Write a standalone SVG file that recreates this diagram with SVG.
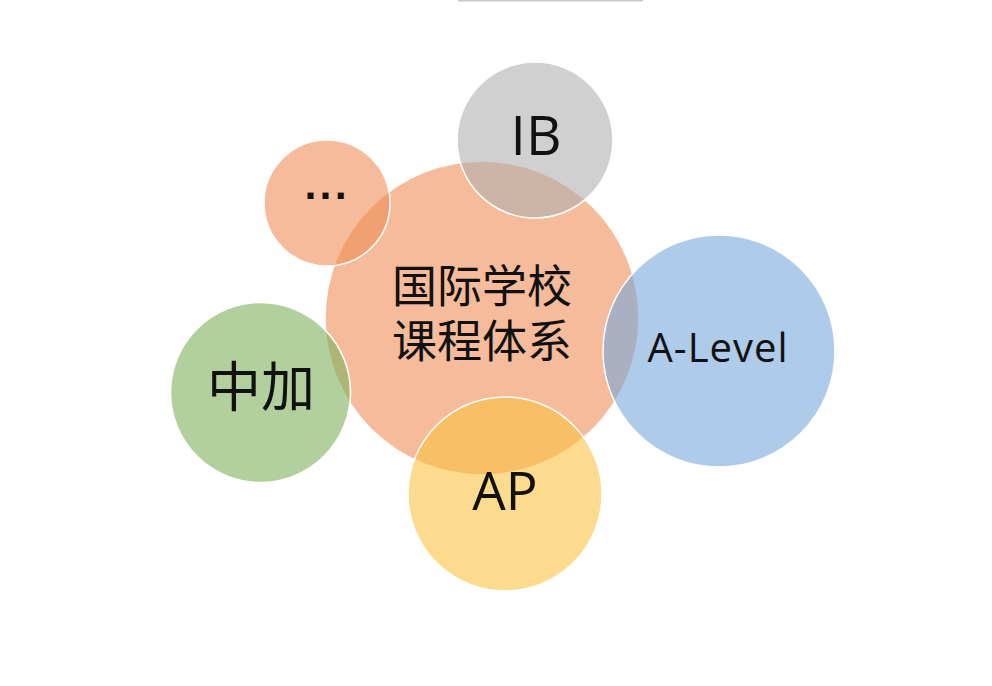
<svg xmlns="http://www.w3.org/2000/svg" width="992" height="686" viewBox="0 0 992 686">
<style>
.c{fill-opacity:0.6;stroke:#ffffff;stroke-width:1.5}
.t{font-family:"Noto Sans CJK SC","Noto Sans",sans-serif;fill:#111111;text-anchor:middle}
.l{font-family:"Open Sans","Noto Sans",sans-serif;fill:#111111;text-anchor:middle}
</style>
<rect width="992" height="686" fill="#ffffff"/>
<line x1="458" y1="0.7" x2="643" y2="0.7" stroke="#c8c8c8" stroke-width="1.5"/>
<g id="center">
<circle class="c" cx="482" cy="318" r="157" fill="#EE8E57"/>
<text class="t" x="482" y="303" font-size="45">国际学校</text>
<text class="t" x="482" y="358" font-size="45">课程体系</text>
</g>
<g id="more">
<circle class="c" cx="327" cy="203" r="63" fill="#EE8E57"/>
<text x="304" y="199" font-family="DejaVu Sans,sans-serif" font-weight="bold" font-size="34" letter-spacing="2.2" fill="#111111">...</text>
</g>
<g id="ib">
<circle class="c" cx="535" cy="140" r="78" fill="#B1B1B1"/>
<text class="l" x="536" y="155" font-size="55">IB</text>
</g>
<g id="alevel">
<circle class="c" cx="719" cy="351" r="116" fill="#78A8DC"/>
<text class="l" x="718" y="362" font-size="40" letter-spacing="1">A-Level</text>
</g>
<g id="ap">
<circle class="c" cx="505" cy="494" r="97" fill="#FAC143"/>
<text class="l" x="505" y="510" font-size="53">AP</text>
</g>
<g id="zhongjia">
<circle class="c" cx="260.5" cy="392.5" r="90" fill="#7EB15D"/>
<text class="t" x="261" y="407" font-size="54">中加</text>
</g>
<g id="connectors"></g>
</svg>
